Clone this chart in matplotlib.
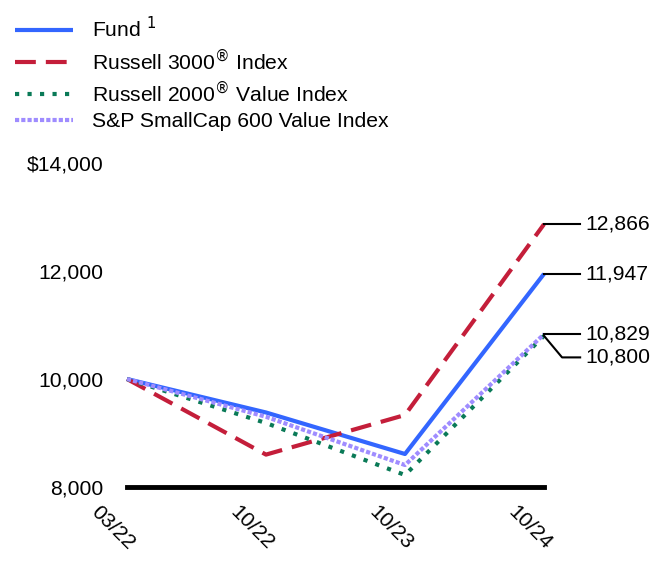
import matplotlib.pyplot as plt
from matplotlib.transforms import ScaledTranslation

plt.rcParams['font.family'] = ['Liberation Sans', 'DejaVu Sans']

dates = ['03/22', '10/22', '10/23', '10/24']
fund = [10000, 9380, 8611, 11947]
russell_3000 = [10000, 8600, 9333, 12866]
russell_2000_value = [10000, 9185, 8222, 10800]
sp600_value = [10000, 9300, 8407, 10829]

series = [
    ('Fund $^1$', fund, '#3366FF', '-'),
    ('Russell 3000$^{®}$ Index', russell_3000, '#C41E3A', (0, (5, 2.4))),
    ('Russell 2000$^{®}$ Value Index', russell_2000_value, '#0A7A57', (0, (1, 2))),
    ('S&P SmallCap 600 Value Index', sp600_value, '#9F8CFF', (0, (1, 0.5))),
]

fig = plt.figure(figsize=(6.72, 5.88), dpi=100)
ax = fig.add_axes([127 / 672, 1 - 487 / 588, (544 - 127) / 672, (487 - 163) / 588])

x = list(range(len(dates)))
handles = []
for label, vals, color, ls in series:
    h, = ax.plot(x, vals, color=color, linestyle=ls, linewidth=3, label=label,
                 solid_capstyle='butt', dash_capstyle='butt', clip_on=False)
    handles.append(h)

fs = 15.2
ax.set_xlim(0, 3)
ax.set_ylim(8000, 14000)
ax.set_yticks([8000, 10000, 12000, 14000])
ax.set_yticklabels(['8,000', '10,000', '12,000', '$14,000'], fontsize=fs)
ax.set_xticks(x)
ax.set_xticklabels(dates, fontsize=fs, rotation=-45, ha='center', va='top')
ax.tick_params(axis='both', length=0)
ax.tick_params(axis='y', pad=17)
ax.tick_params(axis='x', pad=11)
shift = ScaledTranslation(-14 / 100, 0, fig.dpi_scale_trans)
for lbl in ax.get_xticklabels():
    lbl.set_transform(lbl.get_transform() + shift)
for s in ['top', 'right', 'left']:
    ax.spines[s].set_visible(False)
ax.spines['bottom'].set_linewidth(3.5)
ax.spines['bottom'].set_color('black')

# end value labels with leader lines
ends = [(russell_3000[-1], russell_3000[-1]),
        (fund[-1], fund[-1]),
        (sp600_value[-1], sp600_value[-1]),
        (russell_2000_value[-1], 10400)]
for val, ylab in ends:
    if ylab == val:
        ax.plot([3, 3.26], [val, val], color='black', lw=1.5, clip_on=False)
    else:
        ax.plot([3, 3.13, 3.26], [val, ylab, ylab], color='black', lw=1.5, clip_on=False)
    ax.annotate(f'{val:,}', xy=(3, ylab), xycoords='data',
                xytext=(29.5, 0), textcoords='offset points',
                fontsize=fs, va='center', ha='left', annotation_clip=False)

fig.legend(handles=handles, loc='upper left', bbox_to_anchor=(15 / 672, 1 - 16 / 588),
           frameon=False, fontsize=fs, handlelength=2.73, handletextpad=0.94,
           labelspacing=0.3, borderpad=0, borderaxespad=0)

fig.savefig('out.png', dpi=100)
